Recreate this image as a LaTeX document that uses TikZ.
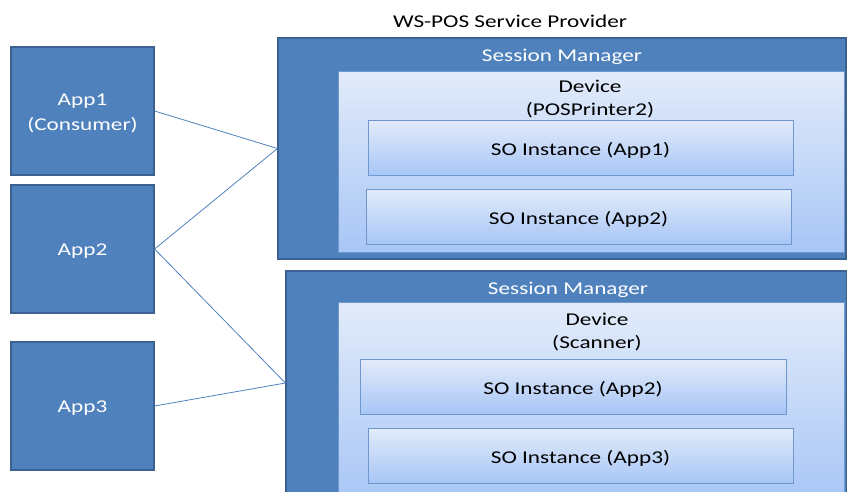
\documentclass[tikz,border=0pt]{standalone}
\usepackage{fontspec}
\setmainfont[FakeStretch=1.29]{Carlito}
\usetikzlibrary{shadows}
\definecolor{darkblue}{HTML}{4F81BD}
\definecolor{edgeblue}{HTML}{3A6190}
\definecolor{lighttop}{HTML}{E2EBFA}
\definecolor{lightbot}{HTML}{A8C6F6}
\definecolor{soborder}{HTML}{6F98CE}
\newcommand{\dn}[1]{\raisebox{-3pt}[\height][\depth]{#1}}
\newcommand{\dnn}[1]{\raisebox{-2pt}[\height][\depth]{#1}}
\tikzset{
  appbox/.style={draw=edgeblue, line width=1.2pt, fill=darkblue, text=white, font=\fontsize{18}{25}\selectfont, align=center, inner sep=0pt},
  smbox/.style={draw=edgeblue, line width=1.2pt, fill=darkblue, inner sep=0pt},
  devbox/.style={draw=soborder, line width=0.8pt, top color=lighttop, bottom color=lightbot, inner sep=0pt},
  sobox/.style={draw=soborder, line width=1pt, top color=lighttop, bottom color=lightbot, inner sep=0pt, font=\fontsize{18}{22}\selectfont,
    drop shadow={opacity=0.35, shadow xshift=1.2pt, shadow yshift=-1.2pt, fill=black!60}},
  wtext/.style={text=white, font=\fontsize{18}{22}\selectfont, inner sep=0pt},
  btext/.style={text=black, font=\fontsize{18}{23}\selectfont, inner sep=0pt, align=center},
  link/.style={draw=darkblue, line width=0.8pt}
}
\begin{document}
\begin{tikzpicture}[x=1pt, y=-1pt]
\useasboundingbox (0,0) rectangle (847,491);
\clip (0,0) rectangle (847,491);
% title
\node[btext] (title) at (510,21) {WS-POS Service Provider};
% apps
\node[appbox, minimum width=143pt, minimum height=128pt] (app1) at (82.5,111) {\dnn{App1}\\\dnn{(Consumer)}};
\node[appbox, minimum width=143pt, minimum height=128pt] (app2) at (82.5,249) {\dnn{App2}};
\node[appbox, minimum width=143pt, minimum height=128pt] (app3) at (82.5,406) {\dnn{App3}};
% session manager 1
\node[smbox, minimum width=568pt, minimum height=221pt] (sm1) at (562,148.5) {};
\node[wtext] (sm1t) at (562,57) {Session Manager};
\node[devbox, minimum width=506pt, minimum height=181pt] (dev1) at (591,161.5) {};
\node[btext] (dev1t) at (590,99) {Device\\(POSPrinter2)};
\node[sobox, minimum width=425pt, minimum height=55pt] (so1) at (580.5,147.5) {\dn{SO Instance (App1)}};
\node[sobox, minimum width=425pt, minimum height=55pt] (so2) at (578.5,216.5) {\dn{SO Instance (App2)}};
% session manager 2
\node[smbox, minimum width=561pt, minimum height=224pt] (sm2) at (566.5,383) {};
\node[wtext] (sm2t) at (568,290) {Session Manager};
\node[devbox, minimum width=506pt, minimum height=200pt] (dev2) at (591,402) {};
\node[btext] (dev2t) at (597,332) {Device\\(Scanner)};
\node[sobox, minimum width=426pt, minimum height=55pt] (so3) at (573,386.5) {\dn{SO Instance (App2)}};
\node[sobox, minimum width=425pt, minimum height=55pt] (so4) at (580.5,455.5) {\dn{SO Instance (App3)}};
% links
\draw[link] (app1.east) -- (sm1.west);
\draw[link] (app2.east) -- (sm1.west);
\draw[link] (app2.east) -- (sm2.west);
\draw[link] (app3.east) -- (sm2.west);
\end{tikzpicture}
\end{document}
